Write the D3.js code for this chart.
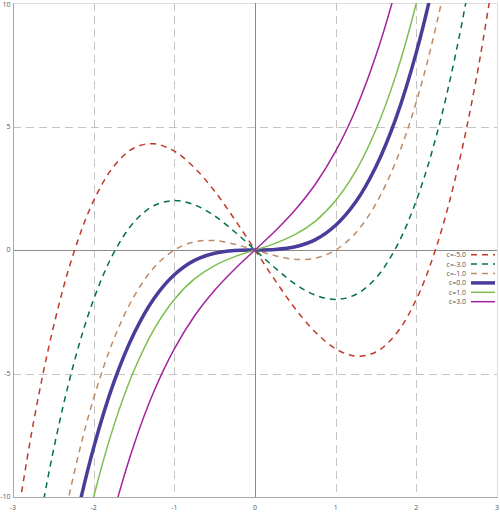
<!DOCTYPE html>
<html>
<head>
<meta charset="utf-8">
<script src="https://cdn.jsdelivr.net/npm/d3@7"></script>
<style>
html,body{margin:0;padding:0;background:#fff;}
svg{display:block;font-family:"Open Sans","DejaVu Sans",sans-serif;}
</style>
</head>
<body>
<svg id="chart" width="500" height="512"></svg>
<script>
// sample x positions
const xs = [-3,-2.75,-2.5,-2.25,-2,-1.75,-1.5,-1.25,-1,-0.75,-0.5,-0.25,0,0.25,0.5,0.75,1,1.25,1.5,1.75,2,2.25,2.5,2.75,3];
// series values
const yCm5 = [-12,-7.05,-3.13,-0.14,2,3.39,4.13,4.30,4,3.33,2.38,1.23,0,-1.23,-2.38,-3.33,-4,-4.30,-4.13,-3.39,-2,0.14,3.13,7.05,12];
const yCm3 = [-18,-12.55,-8.13,-4.64,-2,-0.11,1.13,1.80,2,1.83,1.38,0.73,0,-0.73,-1.38,-1.83,-2,-1.80,-1.13,0.11,2,4.64,8.13,12.55,18];
const yCm1 = [-24,-18.05,-13.13,-9.14,-6,-3.61,-1.88,-0.70,0,0.33,0.38,0.23,0,-0.23,-0.38,-0.33,0,0.70,1.88,3.61,6,9.14,13.13,18.05,24];
const yC0  = [-27,-20.80,-15.63,-11.39,-8,-5.36,-3.38,-1.95,-1,-0.42,-0.13,-0.02,0,0.02,0.13,0.42,1,1.95,3.38,5.36,8,11.39,15.63,20.80,27];
const yC1  = [-30,-23.55,-18.13,-13.64,-10,-7.11,-4.88,-3.20,-2,-1.17,-0.63,-0.27,0,0.27,0.63,1.17,2,3.20,4.88,7.11,10,13.64,18.13,23.55,30];
const yC3  = [-36,-29.05,-23.13,-18.14,-14,-10.61,-7.88,-5.70,-4,-2.67,-1.63,-0.77,0,0.77,1.63,2.67,4,5.70,7.88,10.61,14,18.14,23.13,29.05,36];
const seriesNames = ["c=-5.0","c=-3.0","c=-1.0","c=0.0","c=1.0","c=3.0"];
const seriesValues = [yCm5,yCm3,yCm1,yC0,yC1,yC3];
const seriesColors = ["#c0392b","#00704a","#c08a64","#483d99","#7bbf4e","#a3239d"];
const seriesWidths = [1.5,1.5,1.5,3.5,1.5,1.5];
const seriesDash = ["6,5","6,5","6,5",null,null,null];
const xTicks = [-3,-2,-1,0,1,2,3];
const yTicks = [-10,-5,0,5,10];

const svg = d3.select("#chart");
const L=13, R=497, T=3, B=497;
const x = d3.scaleLinear().domain([-3,3]).range([L,R]);
const y = d3.scaleLinear().domain([-10,10]).range([B,T]);

svg.append("defs").append("clipPath").attr("id","clip")
  .append("rect").attr("x",L).attr("y",T).attr("width",R-L).attr("height",B-T);

// frame (top/right light)
svg.append("line").attr("x1",L).attr("x2",R).attr("y1",T+0.5).attr("y2",T+0.5).attr("stroke","#e0e0e0");
svg.append("line").attr("x1",R+0.5).attr("x2",R+0.5).attr("y1",T).attr("y2",B).attr("stroke","#e0e0e0");

// grid
const g = svg.append("g");
xTicks.filter(t=>t!==0 && t!==-3 && t!==3).forEach(t=>{
  g.append("line").attr("x1",Math.round(x(t))+0.5).attr("x2",Math.round(x(t))+0.5).attr("y1",T).attr("y2",B)
   .attr("stroke","#c4c4c4").attr("stroke-dasharray","8,5");
});
yTicks.filter(t=>t!==0 && t!==-10 && t!==10).forEach(t=>{
  g.append("line").attr("x1",L).attr("x2",R).attr("y1",Math.round(y(t))+0.5).attr("y2",Math.round(y(t))+0.5)
   .attr("stroke","#c4c4c4").attr("stroke-dasharray","8,5");
});
// zero axes
svg.append("line").attr("x1",Math.round(x(0))+0.5).attr("x2",Math.round(x(0))+0.5).attr("y1",T).attr("y2",B).attr("stroke","#8a8a8a");
svg.append("line").attr("x1",L).attr("x2",R).attr("y1",Math.round(y(0))+0.5).attr("y2",Math.round(y(0))+0.5).attr("stroke","#8a8a8a");
// left/bottom frame
svg.append("line").attr("x1",L+0.5).attr("x2",L+0.5).attr("y1",T).attr("y2",B).attr("stroke","#a8a8a8");
svg.append("line").attr("x1",L).attr("x2",R+1).attr("y1",B+0.5).attr("y2",B+0.5).attr("stroke","#a8a8a8");

// tick labels
svg.append("g").selectAll("text").data(xTicks).join("text")
  .attr("x",d=>x(d)).attr("y",510).attr("text-anchor","middle")
  .attr("font-size",7).attr("fill","#555").text(d=>d);
svg.append("g").selectAll("text").data(yTicks).join("text")
  .attr("x",10.5).attr("y",d=>Math.max(y(d),4.5)).attr("dy","0.35em").attr("text-anchor","end")
  .attr("font-size",7).attr("fill","#555").text(d=>d);

// lines
const line = d3.line().x(d=>x(d[0])).y(d=>y(d[1])).curve(d3.curveCatmullRom.alpha(0.5));
const lg = svg.append("g").attr("clip-path","url(#clip)");
seriesValues.forEach((vals,i)=>{
  const pts = xs.map((xv,j)=>[xv,vals[j]]);
  lg.append("path").attr("d",line(pts)).attr("fill","none")
    .attr("stroke",seriesColors[i]).attr("stroke-width",seriesWidths[i])
    .attr("stroke-dasharray",seriesDash[i]);
});

// legend
const leg = svg.append("g");
seriesNames.forEach((n,i)=>{
  const yy = 254.7 + i*9.4;
  leg.append("text").attr("x",466).attr("y",yy).attr("dy","0.35em").attr("text-anchor","end")
    .attr("font-size",7).attr("fill","#555").text(n);
  leg.append("line").attr("x1",471).attr("x2",495).attr("y1",yy).attr("y2",yy)
    .attr("stroke",seriesColors[i]).attr("stroke-width",i===3?3.5:1.5)
    .attr("stroke-dasharray",seriesDash[i]);
});
</script>
</body>
</html>
